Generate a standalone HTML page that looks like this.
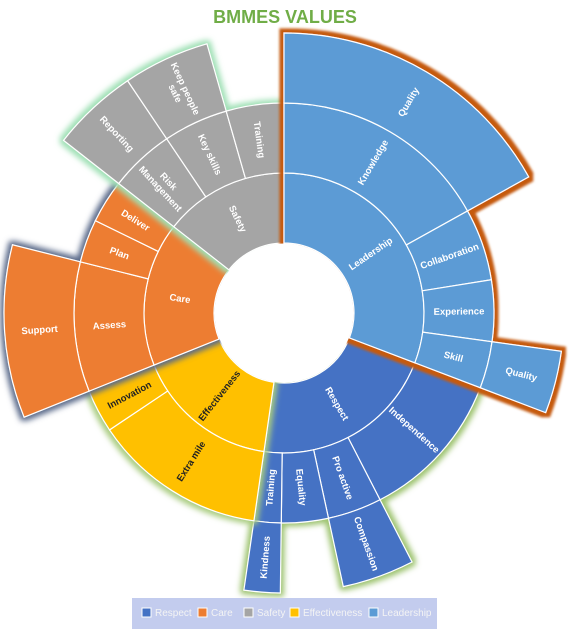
<!DOCTYPE html>
<html><head><meta charset="utf-8"><style>
body{margin:0;background:#fff;}
svg{display:block;font-family:"Liberation Sans",sans-serif;}
</style></head><body>
<svg id="chart" width="573" height="633" viewBox="0 0 573 633">
<defs>
<filter id="gl-Leadership" x="-20%" y="-20%" width="140%" height="140%"><feMorphology in="SourceAlpha" operator="dilate" radius="4" result="d"/><feGaussianBlur in="d" stdDeviation="1.2" result="b"/><feFlood flood-color="#C55A11"/><feComposite in2="b" operator="in" result="g"/><feMerge><feMergeNode in="g"/><feMergeNode in="SourceGraphic"/></feMerge></filter>
<filter id="gl-Respect" x="-20%" y="-20%" width="140%" height="140%"><feMorphology in="SourceAlpha" operator="dilate" radius="3" result="d"/><feGaussianBlur in="d" stdDeviation="3" result="b"/><feFlood flood-color="#9DC36F"/><feComposite in2="b" operator="in" result="g"/><feMerge><feMergeNode in="g"/><feMergeNode in="SourceGraphic"/></feMerge></filter>
<filter id="gl-Effectiveness" x="-20%" y="-20%" width="140%" height="140%"><feMorphology in="SourceAlpha" operator="dilate" radius="3" result="d"/><feGaussianBlur in="d" stdDeviation="3" result="b"/><feFlood flood-color="#A9CC80"/><feComposite in2="b" operator="in" result="g"/><feMerge><feMergeNode in="g"/><feMergeNode in="SourceGraphic"/></feMerge></filter>
<filter id="gl-Care" x="-20%" y="-20%" width="140%" height="140%"><feMorphology in="SourceAlpha" operator="dilate" radius="3" result="d"/><feGaussianBlur in="d" stdDeviation="3" result="b"/><feFlood flood-color="#5A6A8A"/><feComposite in2="b" operator="in" result="g"/><feMerge><feMergeNode in="g"/><feMergeNode in="SourceGraphic"/></feMerge></filter>
<filter id="gl-Safety" x="-20%" y="-20%" width="140%" height="140%"><feMorphology in="SourceAlpha" operator="dilate" radius="3" result="d"/><feGaussianBlur in="d" stdDeviation="3" result="b"/><feFlood flood-color="#9FE0B5"/><feComposite in2="b" operator="in" result="g"/><feMerge><feMergeNode in="g"/><feMergeNode in="SourceGraphic"/></feMerge></filter>
</defs>
<text x="285" y="23" text-anchor="middle" font-size="18" font-weight="bold" fill="#70AD47">BMMES VALUES</text>
<g id="plot"></g>
<circle cx="284" cy="313" r="69" fill="#fff" stroke="#fff"/>
<g>
<rect x="132" y="598" width="305" height="31" fill="#C3CCEE"/>
<g><rect x="142" y="608" width="9" height="9" fill="#4472C4" stroke="#fff"/><text x="155" y="616" font-size="10" fill="#F4F4F4">Respect</text></g>
<g><rect x="198" y="608" width="9" height="9" fill="#ED7D31" stroke="#fff"/><text x="211" y="616" font-size="10" fill="#F4F4F4">Care</text></g>
<g><rect x="244" y="608" width="9" height="9" fill="#A5A5A5" stroke="#fff"/><text x="257" y="616" font-size="10" fill="#F4F4F4">Safety</text></g>
<g><rect x="290" y="608" width="9" height="9" fill="#FFC000" stroke="#fff"/><text x="303" y="616" font-size="10" fill="#F4F4F4">Effectiveness</text></g>
<g><rect x="369" y="608" width="9" height="9" fill="#5B9BD5" stroke="#fff"/><text x="382" y="616" font-size="10" fill="#F4F4F4">Leadership</text></g>
</g>
</svg>
<script>
// Parents (clockwise from 12 o'clock)
const parents = ["Leadership","Respect","Effectiveness","Care","Safety"];
const parentColors = ["#5B9BD5","#4472C4","#FFC000","#ED7D31","#A5A5A5"];
// Level-2 children per parent
const children = [
  ["Knowledge","Collaboration","Experience","Skill"],
  ["Independence","Pro active","Equality","Training"],
  ["Extra mile","Innovation"],
  ["Assess","Plan","Deliver"],
  ["Risk Management","Key skills","Training"]
];
// Level-3 leaf label under each child ("" = child is itself the leaf)
const grandchildren = [
  ["Quality","","","Quality"],
  ["","Compassion","","Kindness"],
  ["",""],
  ["Support","",""],
  ["Reporting","Keep people safe",""]
];
// Leaf values
const values = [
  [61,20,17,13],
  [42,15,13,7.5],
  [48,12],
  [36,12,12],
  [18,18,16]
];
const CX=284, CY=313, RING=70;
const total = values.flat().reduce((a,b)=>a+b,0);
const angScale = v => v/total*360;
const plot = document.getElementById('plot');
const NS='http://www.w3.org/2000/svg';
function pt(a,r){const t=a*Math.PI/180;return [CX+r*Math.sin(t), CY-r*Math.cos(t)];}
function wedge(a0,a1,r0,r1){
  const p0=pt(a0,r1),p1=pt(a1,r1),p2=pt(a1,r0),p3=pt(a0,r0);
  const lg=(a1-a0)>180?1:0;
  return `M${p0[0]},${p0[1]}A${r1},${r1} 0 ${lg} 1 ${p1[0]},${p1[1]}L${p2[0]},${p2[1]}A${r0},${r0} 0 ${lg} 0 ${p3[0]},${p3[1]}Z`;
}
function label(g,txt,a0,a1,r0,r1,color){
  const am=(a0+a1)/2, rm=(r0+r1)/2;
  const p=pt(am,rm);
  let rot=am-90; if(rot>90) rot-=180; if(rot<-90) rot+=180;
  const t=document.createElementNS(NS,'text');
  
  
  t.setAttribute('transform',`translate(${p[0]},${p[1]}) rotate(${rot})`);
  t.setAttribute('text-anchor','middle');
  t.setAttribute('font-size','9.5');
  t.setAttribute('font-weight','bold');
  t.setAttribute('fill',color);
  let words=[txt];
  if(txt==="Keep people safe") words=["Keep people","safe"];
  if(txt==="Risk Management") words=["Risk","Management"];
  words.forEach((w,i)=>{const s=document.createElementNS(NS,'tspan');s.setAttribute('x',0);s.setAttribute('y',(i-(words.length-1)/2)*11+3.5);s.textContent=w;t.appendChild(s);});
  g.appendChild(t);
}
function seg(g,name,a0,a1,r0,r1,fill){
  const p=document.createElementNS(NS,'path');
  p.setAttribute('d',wedge(a0,a1,r0,r1));
  p.setAttribute('fill',fill);p.setAttribute('stroke','#fff');p.setAttribute('stroke-width','1.2');
  
  
  g.appendChild(p);
}
const order=[1,2,3,4,0];
const starts=[];let acc=0;
parents.forEach((p,i)=>{starts.push(acc);acc+=values[i].reduce((a,b)=>a+b,0);});
order.forEach(i=>{
  const g=document.createElementNS(NS,'g');
  g.setAttribute('filter',`url(#gl-${parents[i]})`);
  
  
  const lab=document.createElementNS(NS,'g');
  
  
  const col=parents[i]==="Effectiveness"?"#222":"#fff";
  const pa0=angScale(starts[i]), pa1=angScale(starts[i]+values[i].reduce((a,b)=>a+b,0));
  seg(g,'segment-'+parents[i].toLowerCase(),pa0,pa1,RING,2*RING,parentColors[i]);
  label(lab,parents[i],pa0,pa1,RING,2*RING,col);
  let c=starts[i];
  children[i].forEach((ch,j)=>{
    const a0=angScale(c), a1=angScale(c+values[i][j]);
    seg(g,'segment-'+ch.toLowerCase().replace(/\s+/g,'-'),a0,a1,2*RING,3*RING,parentColors[i]);
    label(lab,ch,a0,a1,2*RING,3*RING,col);
    const gc=grandchildren[i][j];
    if(gc){
      seg(g,'segment-'+gc.toLowerCase().replace(/\s+/g,'-'),a0,a1,3*RING,4*RING,parentColors[i]);
      label(lab,gc,a0,a1,3*RING,4*RING,col);
    }
    c+=values[i][j];
  });
  plot.appendChild(g);
  plot.appendChild(lab);
});
</script>
</body></html>
